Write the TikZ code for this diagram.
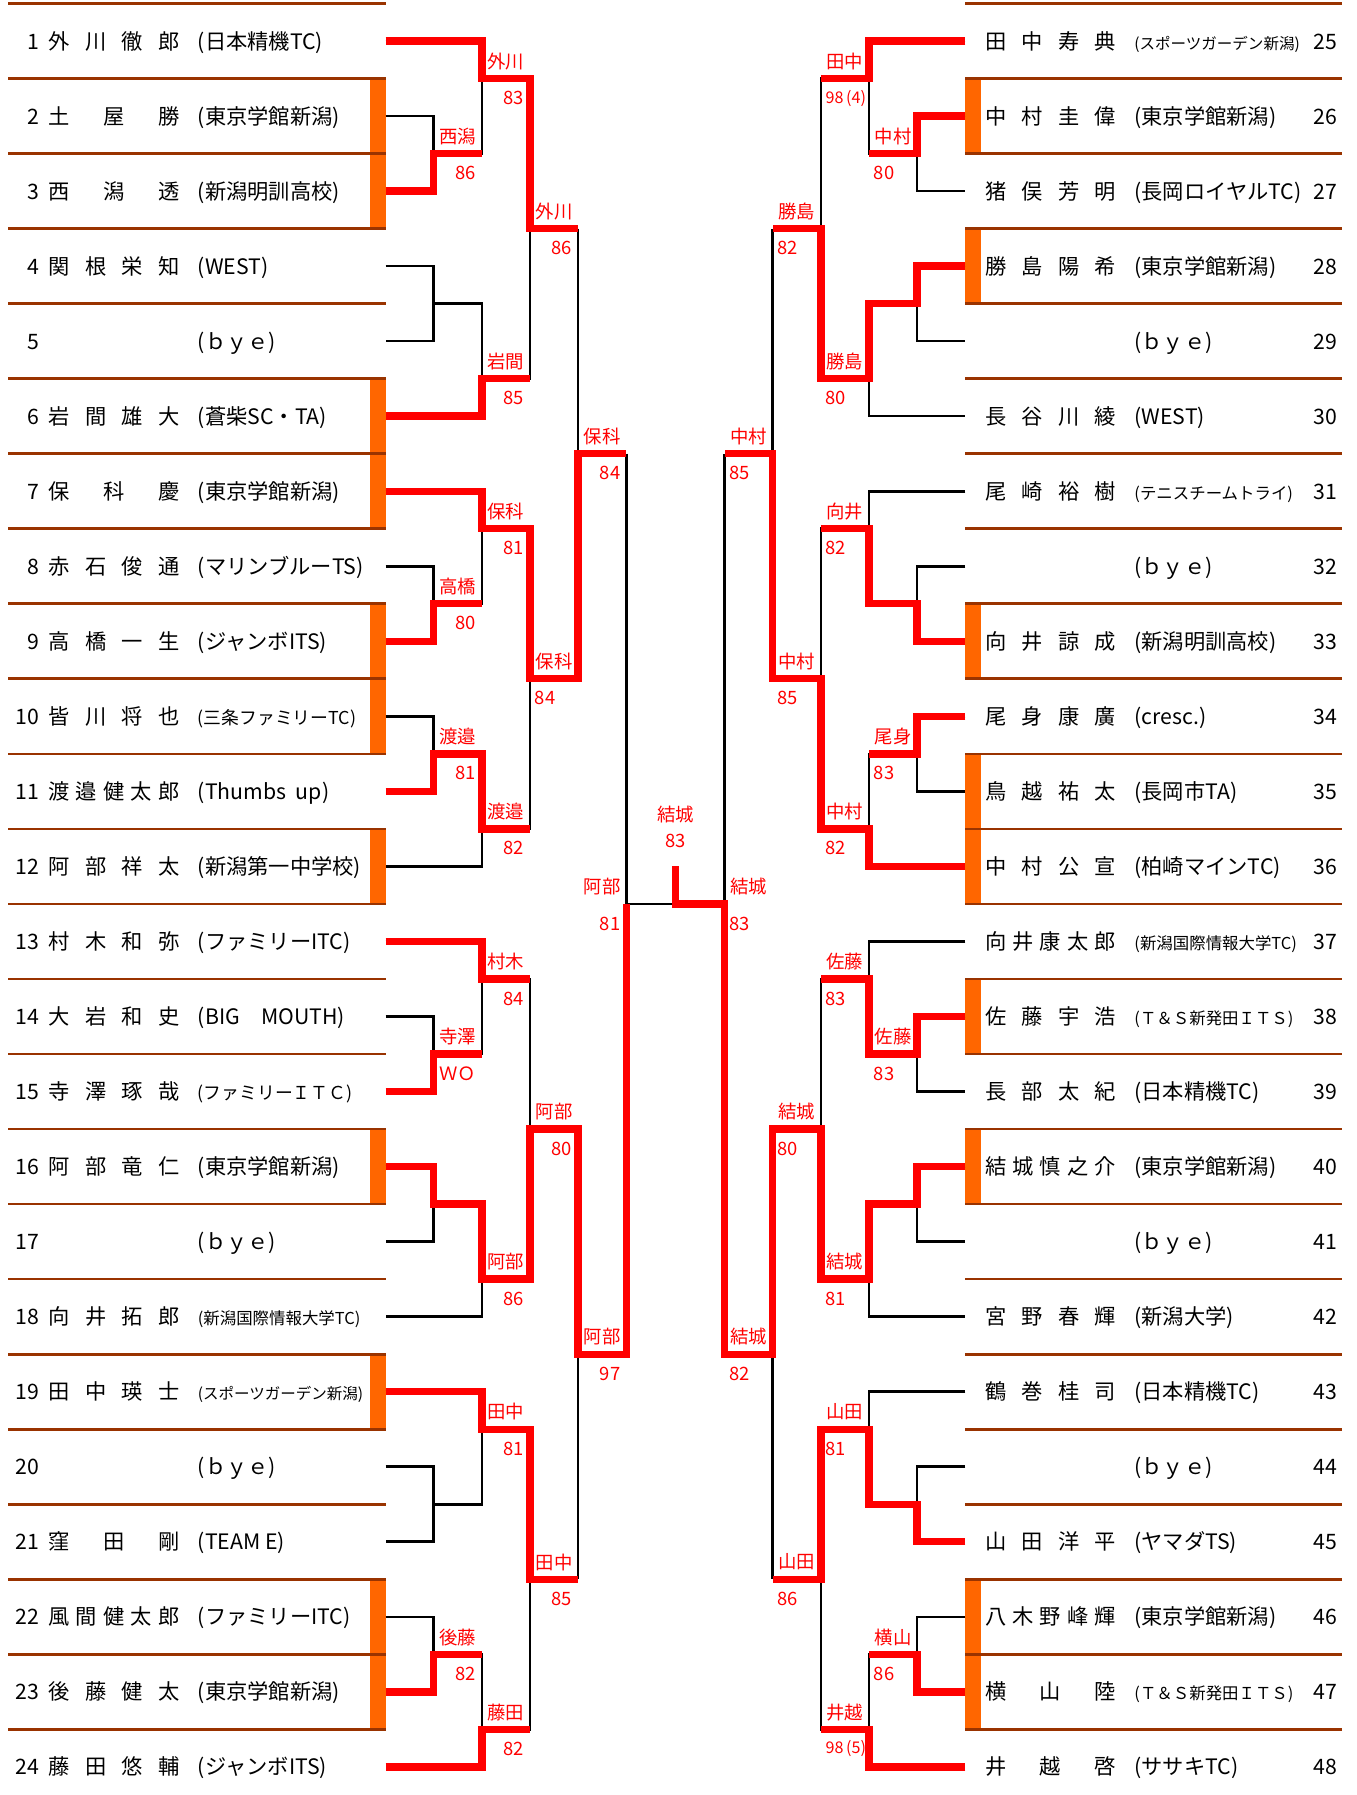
\documentclass[tikz,border=0pt]{standalone}
\usepackage{fontspec}
\setmainfont{Noto Sans CJK JP}
\usepackage{tikz}
\definecolor{sepbrown}{HTML}{993300}
\definecolor{barorange}{HTML}{FF6600}
\tikzset{
  sep/.style={draw=sepbrown, line width=2.3pt},
  bk/.style={draw=black, line width=2.3pt},
  win/.style={draw=red, line width=6.4pt},
  bar/.style={fill=barorange},
  num/.style={inner sep=0pt, anchor=base east, yshift=-7pt},
  nm/.style={inner sep=0pt, anchor=base west, yshift=-7pt},
  club/.style={inner sep=0pt, anchor=base west, yshift=-7pt},
  res/.style={inner sep=0pt, text=red, font=\fontsize{16}{18}\selectfont},
  lbl/.style={res, yshift=15pt},
}
\newcommand\who[1]{\makebox[114pt][s]{#1}}
\newcommand\clubS{\fontsize{13.5}{15}\selectfont}
\newcommand\clubT{\fontsize{14.3}{16}\selectfont}
\newcommand\clubM{\fontsize{15.5}{17}\selectfont}
%% one match result: name above the line, score below
\newcommand\res[5]{\node[lbl] (#1) at (#2+0.5,#3) {#4}; \node[scr] (#1s) at (#2+1,#3) {#5};}
%% bracket lines of one half, four blocks of six
\newcommand\skel{%
  \foreach \grp in {0,12,24,36} {
    \draw[bk] (0,\grp+1) -| (2,\grp+4) -- (1,\grp+4);
    \draw[bk] (0,\grp+3) -| (1,\grp+5) -- (0,\grp+5);
    \draw[bk] (0,\grp+7) -| (1,\grp+9) -- (0,\grp+9);
    \draw[bk] (1,\grp+8) -| (2,\grp+11) -- (0,\grp+11);
    \draw[bk] (2,\grp+2) -| (3,\grp+10) -- (2,\grp+10);
    \draw[bk] (3,\grp+6) -- (4,\grp+6);
  }
  \draw[bk] (4,6) -- (4,18) (4,12) -- (5,12) (4,30) -- (4,42) (4,36) -- (5,36);
  \draw[bk] (5,12) -- (5,36) (5,24) -- (fin);
}

\begin{document}
\begin{tikzpicture}[x=1pt, y=-32.65pt, font=\fontsize{18.5}{20}\selectfont]

  \useasboundingbox (0,-0.0919) rectangle (1180,47.749);
  \coordinate (fin) at (588,24);
  \coordinate (tick) at (588,23);

  %% seeded rows
  \foreach \i in {2,3,6,7,9,10,12,16,19,22,23}
    \fill[bar] (321.6,2*\i-2) rectangle (335.5,2*\i);
  \foreach \i in {26,28,33,35,36,38,40,46,47}
    \fill[bar] (840,2*\i-50) rectangle (854,2*\i-48);
  \foreach \g in {0,2,...,46} {
    \draw[sep] (7,\g) -- (335.5,\g);
    \draw[sep] (840,\g) -- (1168,\g);
  }

  %% players, left half
  \foreach \i/\n/\c in {1/{外 川 徹 郎}/{(日本精機TC)}, 2/{土 屋 勝}/{(東京学館新潟)},
      3/{西 潟 透}/{(新潟明訓高校)}, 4/{関 根 栄 知}/{(WEST)}, 5/{}/{(ｂｙｅ)},
      6/{岩 間 雄 大}/{(蒼柴SC・TA)}, 7/{保 科 慶}/{(東京学館新潟)},
      8/{赤 石 俊 通}/{(マリンブルーTS)}, 9/{高 橋 一 生}/{(ジャンボITS)},
      10/{皆 川 将 也}/{\clubM (三条ファミリーTC)}, 11/{渡 邉 健 太 郎}/{(Thumbs\ \ up)},
      12/{阿 部 祥 太}/{(新潟第一中学校)}, 13/{村 木 和 弥}/{(ファミリーITC)},
      14/{大 岩 和 史}/{(BIG\quad MOUTH)}, 15/{寺 澤 琢 哉}/{\clubM (ファミリーＩＴＣ)},
      16/{阿 部 竜 仁}/{(東京学館新潟)}, 17/{}/{(ｂｙｅ)},
      18/{向 井 拓 郎}/{\clubT (新潟国際情報大学TC)}, 19/{田 中 瑛 士}/{\clubS (スポーツガーデン新潟)},
      20/{}/{(ｂｙｅ)}, 21/{窪 田 剛}/{(TEAM E)}, 22/{風 間 健 太 郎}/{(ファミリーITC)},
      23/{後 藤 健 太}/{(東京学館新潟)}, 24/{藤 田 悠 輔}/{(ジャンボITS)}} {
    \node[num] (n\i) at (34,2*\i-1) {\i};
    \node[nm] (p\i) at (42,2*\i-1) {\who{\n}};
    \node[club] (k\i) at (172,2*\i-1) {\c};
  }

  %% players, right half
  \foreach \i/\n/\c in {25/{田 中 寿 典}/{\clubS (スポーツガーデン新潟)}, 26/{中 村 圭 偉}/{(東京学館新潟)},
      27/{猪 俣 芳 明}/{(長岡ロイヤルTC)}, 28/{勝 島 陽 希}/{(東京学館新潟)}, 29/{}/{(ｂｙｅ)},
      30/{長 谷 川 綾}/{(WEST)}, 31/{尾 崎 裕 樹}/{\clubT (テニスチームトライ)}, 32/{}/{(ｂｙｅ)},
      33/{向 井 諒 成}/{(新潟明訓高校)}, 34/{尾 身 康 廣}/{(cresc.)},
      35/{鳥 越 祐 太}/{(長岡市TA)}, 36/{中 村 公 宣}/{(柏崎マインTC)},
      37/{向 井 康 太 郎}/{\clubT (新潟国際情報大学TC)}, 38/{佐 藤 宇 浩}/{\clubT (Ｔ＆Ｓ新発田ＩＴＳ)},
      39/{長 部 太 紀}/{(日本精機TC)}, 40/{結 城 慎 之 介}/{(東京学館新潟)}, 41/{}/{(ｂｙｅ)},
      42/{宮 野 春 輝}/{(新潟大学)}, 43/{鶴 巻 桂 司}/{(日本精機TC)}, 44/{}/{(ｂｙｅ)},
      45/{山 田 洋 平}/{(ヤマダTS)}, 46/{八 木 野 峰 輝}/{(東京学館新潟)},
      47/{横 山 陸}/{\clubT (Ｔ＆Ｓ新発田ＩＴＳ)}, 48/{井 越 啓}/{(ササキTC)}} {
    \node[num] (n\i) at (1164,2*\i-49) {\i};
    \node[nm] (p\i) at (857,2*\i-49) {\who{\n}};
    \node[club] (k\i) at (987,2*\i-49) {\c};
  }

  %% left half
  \begin{scope}[xshift=335.5pt, x=41.9pt,
      scr/.style={res, anchor=east, xshift=-5pt, yshift=-17pt},
      scrw/.style={res, anchor=west, xshift=4pt, yshift=-17pt}]
    \skel
    \draw[win] (0,1) -| (2,2) -| (3,6) -- (4,6);
    \draw[win] (0,5) -| (1,4) -- (2,4);
    \draw[win] (0,11) -| (2,10) -- (3,10);
    \draw[win] (0,13) -| (2,14) -| (3,18) -| (4,12) -- (5,12);
    \draw[win] (0,17) -| (1,16) -- (2,16);
    \draw[win] (0,21) -| (1,20) -| (2,22) -- (3,22);
    \draw[win] (0,25) -| (2,26) -- (3,26);
    \draw[win] (0,29) -| (1,28) -- (2,28);
    \draw[win] (0,31) -| (1,32) -| (2,34) -| (3,30) -| (4,36) -| (5,24);
    \draw[win] (0,37) -| (2,38) -| (3,42) -- (4,42);
    \draw[win] (0,45) -| (1,44) -- (2,44);
    \draw[win] (0,47) -| (2,46) -- (3,46);

    \res{a1}{1}{4}{西潟}{86}
    \res{a2}{2}{2}{外川}{83}
    \res{a3}{2}{10}{岩間}{85}
    \res{a4}{3}{6}{外川}{86}
    \res{b1}{2}{14}{保科}{81}
    \res{b2}{1}{16}{高橋}{80}
    \res{b3}{1}{20}{渡邉}{81}
    \res{b4}{2}{22}{渡邉}{82}
    \node[lbl] (b5) at (3.5,18) {保科}; \node[scrw] (b5s) at (3,18) {84};
    \res{b6}{4}{12}{保科}{84}
    \res{c1}{2}{26}{村木}{84}
    \res{c2}{1}{28}{寺澤}{ＷＯ}
    \res{c3}{2}{34}{阿部}{86}
    \res{c4}{3}{30}{阿部}{80}
    \res{d1}{2}{38}{田中}{81}
    \res{d2}{1}{44}{後藤}{82}
    \res{d3}{2}{46}{藤田}{82}
    \res{d4}{3}{42}{田中}{85}
    \res{d5}{4}{36}{阿部}{97}
    \res{sl}{4}{24}{阿部}{81}
  \end{scope}

  %% right half
  \begin{scope}[xshift=840pt, x=-41.9pt,
      scr/.style={res, anchor=west, xshift=4pt, yshift=-17pt}]
    \skel
    \draw[win] (0,1) -| (2,2) -- (3,2);
    \draw[win] (0,3) -| (1,4) -- (2,4);
    \draw[win] (0,7) -| (1,8) -| (2,10) -| (3,6) -- (4,6);
    \draw[win] (0,17) -| (1,16) -| (2,14) -- (3,14);
    \draw[win] (0,19) -| (1,20) -- (2,20);
    \draw[win] (0,23) -| (2,22) -| (3,18) -| (4,12) -- (5,12);
    \draw[win] (0,27) -| (1,28) -| (2,26) -- (3,26);
    \draw[win] (0,31) -| (1,32) -| (2,34) -| (3,30) -| (4,36) -| (5,24) -- (fin) -- (tick);
    \draw[win] (0,41) -| (1,40) -| (2,38) -| (3,42) -- (4,42);
    \draw[win] (0,45) -| (1,44) -- (2,44);
    \draw[win] (0,47) -| (2,46) -- (3,46);

    \res{e1}{2}{2}{田中}{\fontsize{14}{16}\selectfont 98\,(4)}
    \res{e2}{1}{4}{中村}{80}
    \res{e3}{2}{10}{勝島}{80}
    \res{e4}{3}{6}{勝島}{82}
    \res{f1}{2}{14}{向井}{82}
    \res{f2}{1}{20}{尾身}{83}
    \res{f3}{2}{22}{中村}{82}
    \res{f4}{3}{18}{中村}{85}
    \res{f5}{4}{12}{中村}{85}
    \res{g1}{2}{26}{佐藤}{83}
    \res{g2}{1}{28}{佐藤}{83}
    \res{g3}{2}{34}{結城}{81}
    \res{g4}{3}{30}{結城}{80}
    \res{h1}{2}{38}{山田}{81}
    \res{h2}{1}{44}{横山}{86}
    \res{h3}{2}{46}{井越}{\fontsize{14}{16}\selectfont 98\,(5)}
    \res{h4}{3}{42}{山田}{86}
    \res{h5}{4}{36}{結城}{82}
    \res{sr}{4}{24}{結城}{83}
  \end{scope}

  %% final
  \node[res] (fn) at (588,21.62) {結城};
  \node[res] (fs) at (588,22.33) {83};

\end{tikzpicture}
\end{document}
